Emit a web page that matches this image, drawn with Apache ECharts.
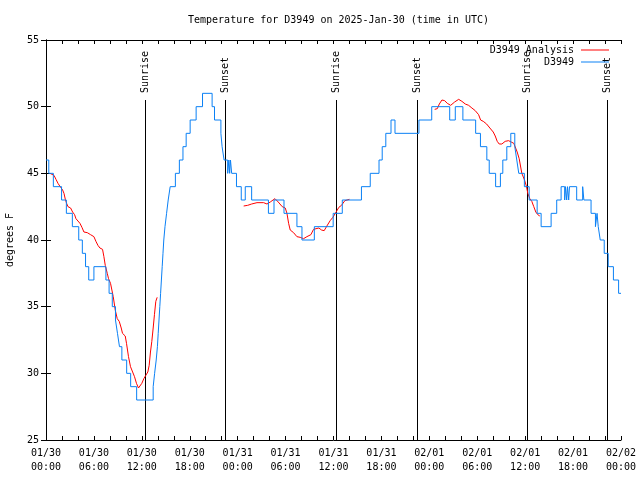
<!DOCTYPE html>
<html>
<head>
<meta charset="utf-8">
<script src="https://cdn.jsdelivr.net/npm/echarts@6/dist/echarts.min.js"></script>
<style>html,body{margin:0;padding:0;background:#fff}#c{width:640px;height:480px}</style>
</head>
<body>
<div id="c"></div>
<script>
// ---- data (hours since 2025-01-30 00:00 UTC) ----
const xTickLabels = ['01/30\n00:00','01/30\n06:00','01/30\n12:00','01/30\n18:00','01/31\n00:00','01/31\n06:00','01/31\n12:00','01/31\n18:00','02/01\n00:00','02/01\n06:00','02/01\n12:00','02/01\n18:00','02/02\n00:00'];

// D3949 observations: temperature holds from each hour until the next
const blueHours = [0,0.35,0.92,1.95,2.55,3.3,4.1,4.55,4.95,5.35,6.0,7.5,7.9,8.3,8.7,8.95,9.2,9.5,10.1,10.6,11.35,
  13.42,13.6,13.8,13.95,14.05,14.15,14.25,14.35,14.45,14.55,14.65,14.75,14.9,15.1,15.3,15.55,16.2,16.7,17.15,17.55,18.05,18.8,19.6,
  20.8,21.1,21.9,22.05,22.3,22.75,22.9,23.0,23.1,23.25,23.85,24.45,24.95,25.75,27.85,28.55,29.8,31.42,32.05,33.6,35.96,37.1,39.5,40.6,
  41.7,42.1,42.55,43.2,43.7,46.7,48.3,50.55,51.25,52.2,53.8,54.4,55.2,55.5,56.3,56.9,57.2,57.7,58.2,58.7,58.95,59.2,59.9,60.5,61.5,
  62.0,63.25,63.95,64.5,64.95,65.05,65.2,65.3,65.45,65.55,66.45,67.2,67.35,68.25,68.8,69.0,69.15,69.4,69.9,70.4,71.05,71.7,72];
const blueTemps = [46,45,44,43,42,41,40,39,38,37,38,37,36,35,34,33,32,31,30,29,28,
  29,30,31,32,33,34,35,36,37,38,39,40,41,42,43,44,45,46,47,48,49,50,51,
  50,49,48,47,46,45,46,45,46,45,44,43,44,43,42,43,42,41,40,41,42,43,44,45,
  46,47,48,49,48,49,50,49,50,49,48,47,46,45,44,45,46,47,48,47,46,45,44,43,42,
  41,42,43,44,43,44,43,44,43,44,43,44,43,42,41,42,41,40,39,38,37,36,36];

// D3949 Analysis (null = gap)
const redHours = [0.5,1.0,1.25,1.5,1.83,2.08,2.25,2.42,2.58,2.75,3.08,3.33,3.58,3.75,4.0,4.25,4.5,4.75,5.17,5.58,6.0,6.25,6.5,6.75,7.08,7.25,7.42,7.67,7.83,8.08,8.25,8.42,8.67,8.92,9.17,9.42,9.58,9.92,10.08,10.33,10.58,10.83,11.08,11.33,11.58,11.83,12.0,12.25,12.5,12.75,12.92,13.08,13.25,13.42,13.58,13.75,13.92,
  18,
  24.75,25.25,25.75,26.42,27.25,27.67,28.08,28.67,29.08,29.58,29.96,30.17,30.38,30.58,31.0,31.42,31.83,32.25,32.67,33.17,33.5,33.75,34.17,34.5,34.83,35.17,35.58,35.92,36.33,36.67,37.0,37.42,38.0,
  43,
  48.67,49.0,49.25,49.58,49.92,50.25,50.67,51.17,51.67,52.08,52.5,52.92,53.33,53.75,54.17,54.42,54.75,55.17,55.58,56.0,56.25,56.5,56.75,57.08,57.5,57.92,58.25,58.58,58.83,59.0,59.25,59.58,59.92,60.17,60.33,60.58,60.83,61.08,61.33,61.58,61.83];
const redTemps = [45.0,44.85,44.55,44.25,43.95,43.75,43.5,43.05,42.75,42.5,42.4,42.1,41.9,41.6,41.5,41.25,40.95,40.6,40.55,40.4,40.25,39.9,39.6,39.4,39.3,38.75,38.1,37.5,37.1,36.75,36.25,35.75,34.75,34.1,33.9,33.4,33.0,32.8,32.25,31.25,30.5,30.35,29.75,29.25,28.9,28.95,29.25,29.6,29.85,30.1,30.6,31.6,32.4,33.4,34.4,35.4,35.7,
  null,
  42.55,42.6,42.7,42.8,42.8,42.7,42.85,43.1,42.85,42.5,42.4,42.0,41.25,40.75,40.55,40.25,40.2,40.1,40.25,40.4,40.8,40.95,40.9,40.75,40.7,41.05,41.45,41.7,42.1,42.45,42.6,42.95,43.05,
  null,
  49.8,49.85,50.2,50.5,50.45,50.25,50.1,50.35,50.55,50.4,50.2,50.1,49.9,49.7,49.4,49.0,48.9,48.7,48.4,48.1,47.8,47.4,47.2,47.2,47.4,47.45,47.35,47.25,47.1,46.6,46.1,45.0,44.5,44.0,43.5,43.1,42.9,42.5,42.1,41.9,41.8];

const sunTimes = [12.40, 22.41, 36.29, 46.41, 60.29, 70.29];
const sunLabels = ['Sunrise','Sunset','Sunrise','Sunset','Sunrise','Sunset'];

// ---- chart ----
const FONT = '"DejaVu Sans Mono", monospace';
const chart = echarts.init(document.getElementById('c'), null, {renderer: 'canvas'});
const SUN_TOP = 50.5;

const blueData = blueHours.map((h, i) => [h, blueTemps[i]]);
const redData = redHours.map((h, i) => [h, redTemps[i]]);

function xAxisDef(pos, showLabels) {
  return {
    type: 'value', position: pos, min: 0, max: 72, interval: 2,
    axisLine: {show: true, lineStyle: {color: '#000', width: 1}},
    axisTick: {show: true, inside: true, length: 4, lineStyle: {color: '#000'}},
    splitLine: {show: false},
    axisLabel: {
      show: showLabels, color: '#000', fontFamily: FONT, fontSize: 10, lineHeight: 14, margin: 6,
      formatter: v => (v % 6 === 0 ? xTickLabels[v / 6] : '')
    }
  };
}
function yAxisDef(pos, showLabels) {
  return {
    type: 'value', position: pos, min: 25, max: 55, interval: 5,
    axisLine: {show: true, lineStyle: {color: '#000', width: 1}},
    axisTick: {show: true, inside: true, length: 5, lineStyle: {color: '#000'}},
    splitLine: {show: false},
    axisLabel: {show: showLabels, color: '#000', fontFamily: FONT, fontSize: 10, margin: 7},
    name: showLabels ? 'degrees F' : '',
    nameLocation: 'middle', nameGap: 31,
    nameTextStyle: {color: '#000', fontFamily: FONT, fontSize: 10}
  };
}

chart.setOption({
  animation: false,
  backgroundColor: '#fff',
  title: {
    text: 'Temperature for D3949 on 2025-Jan-30 (time in UTC)',
    left: 333.5, textAlign: 'center', top: 10,
    textStyle: {color: '#000', fontFamily: FONT, fontSize: 10, fontWeight: 'normal'}
  },
  legend: {
    data: ['D3949 Analysis', 'D3949'],
    orient: 'vertical', right: 26, top: 39, align: 'right',
    icon: 'rect', itemWidth: 28, itemHeight: 1, itemGap: 0,
    textStyle: {color: '#000', fontFamily: FONT, fontSize: 10, lineHeight: 12, padding: [0, 2, 0, 0]}
  },
  grid: {left: 46, right: 19, top: 40, bottom: 40, containLabel: false, outerBoundsMode: 'none'},
  xAxis: [xAxisDef('bottom', true), xAxisDef('top', false)],
  yAxis: [yAxisDef('left', true), yAxisDef('right', false)],
  series: [
    {
      name: 'D3949 Analysis', type: 'line', data: redData, symbol: 'none',
      connectNulls: false, lineStyle: {color: '#ff0000', width: 1}, itemStyle: {color: '#ff0000'}
    },
    {
      name: 'D3949', type: 'line', data: blueData, symbol: 'none', step: 'end',
      lineStyle: {color: '#0a80f5', width: 1}, itemStyle: {color: '#0a80f5'}
    },
    {
      name: 'sun', type: 'custom', data: sunTimes.map(t => [t, 25]),
      encode: {x: 0, y: 1}, silent: true, z: 1,
      renderItem: function (params, api) {
        const t = api.value(0);
        const p0 = api.coord([t, 25]);
        const p1 = api.coord([t, SUN_TOP]);
        const x = Math.round(p0[0]) + 0.5;
        return {
          type: 'group',
          children: [
            {type: 'line', shape: {x1: x, y1: p0[1], x2: x, y2: p1[1]}, style: {stroke: '#000', lineWidth: 1}},
            {type: 'text', x: x, y: p1[1] - 7, rotation: Math.PI / 2,
             style: {text: sunLabels[params.dataIndex], fill: '#000', fontFamily: FONT, fontSize: 10,
                     align: 'left', verticalAlign: 'middle'}}
          ]
        };
      }
    }
  ]
});
</script>
</body>
</html>
